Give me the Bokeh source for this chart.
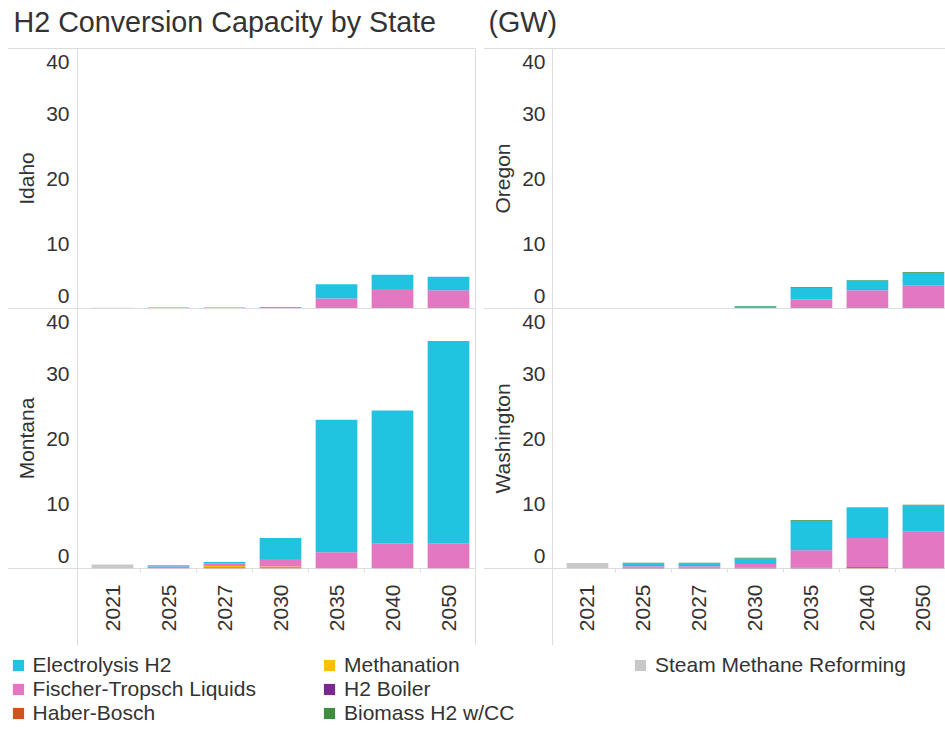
import math
from bokeh.plotting import figure
from bokeh.models import (ColumnDataSource, Range1d, FixedTicker, Legend, LegendItem, Label, Spacer)
from bokeh.layouts import column, row
from bokeh.embed import file_html
from bokeh.resources import INLINE

# ---------------- data ----------------
years = ["2021", "2025", "2027", "2030", "2035", "2040", "2050"]
states = ["Idaho", "Oregon", "Montana", "Washington"]

# stacking order, bottom -> top
techs = ["Steam Methane Reforming", "Haber-Bosch", "Methanation", "H2 Boiler",
         "Fischer-Tropsch Liquids", "Electrolysis H2", "Biomass H2 w/CC"]

tech_colors = {
    "Electrolysis H2": "#20c4e0",
    "Fischer-Tropsch Liquids": "#e377c2",
    "Haber-Bosch": "#d0521e",
    "Methanation": "#ffbe00",
    "H2 Boiler": "#7b2991",
    "Biomass H2 w/CC": "#3f8d3f",
    "Steam Methane Reforming": "#c8c8c8",
}

# capacities in GW
idaho = {
    "Steam Methane Reforming": [0.1, 0, 0, 0, 0, 0, 0],
    "Haber-Bosch":             [0, 0, 0, 0, 0, 0, 0],
    "Methanation":             [0, 0, 0, 0, 0, 0, 0],
    "H2 Boiler":               [0, 0, 0, 0, 0, 0, 0],
    "Fischer-Tropsch Liquids": [0, 0, 0, 0, 1.55, 3.0, 2.8],
    "Electrolysis H2":         [0, 0.15, 0.15, 0.2, 2.2, 2.2, 2.1],
    "Biomass H2 w/CC":         [0, 0, 0, 0.05, 0, 0, 0],
}
oregon = {
    "Steam Methane Reforming": [0, 0, 0, 0, 0, 0, 0],
    "Haber-Bosch":             [0, 0, 0, 0, 0, 0, 0],
    "Methanation":             [0, 0, 0, 0, 0, 0, 0],
    "H2 Boiler":               [0, 0, 0, 0, 0, 0, 0],
    "Fischer-Tropsch Liquids": [0, 0, 0, 0, 1.4, 2.8, 3.5],
    "Electrolysis H2":         [0, 0, 0, 0.3, 1.8, 1.5, 2.0],
    "Biomass H2 w/CC":         [0, 0, 0, 0.1, 0.1, 0.1, 0.1],
}
montana = {
    "Steam Methane Reforming": [0.6, 0, 0, 0, 0, 0, 0],
    "Haber-Bosch":             [0, 0, 0.2, 0.2, 0, 0, 0],
    "Methanation":             [0, 0, 0.2, 0.1, 0, 0, 0],
    "H2 Boiler":               [0, 0, 0, 0, 0, 0, 0],
    "Fischer-Tropsch Liquids": [0, 0.3, 0.4, 1.15, 2.5, 3.9, 3.9],
    "Electrolysis H2":         [0, 0.2, 0.2, 3.25, 20.4, 20.4, 31.1],
    "Biomass H2 w/CC":         [0, 0, 0, 0, 0, 0, 0],
}
washington = {
    "Steam Methane Reforming": [0.85, 0, 0, 0, 0, 0, 0],
    "Haber-Bosch":             [0, 0, 0, 0, 0, 0.15, 0],
    "Methanation":             [0, 0, 0, 0, 0, 0, 0],
    "H2 Boiler":               [0, 0.1, 0.1, 0.1, 0.1, 0.1, 0.05],
    "Fischer-Tropsch Liquids": [0, 0.25, 0.25, 0.6, 2.7, 4.45, 5.6],
    "Electrolysis H2":         [0, 0.45, 0.45, 0.85, 4.55, 4.6, 4.05],
    "Biomass H2 w/CC":         [0, 0.1, 0.1, 0.1, 0.1, 0.1, 0.1],
}
state_data = {"Idaho": idaho, "Oregon": oregon, "Montana": montana, "Washington": washington}

y_ticks = [0, 10, 20, 30, 40]

legend_cols = [
    ["Electrolysis H2", "Fischer-Tropsch Liquids", "Haber-Bosch"],
    ["Methanation", "H2 Boiler", "Biomass H2 w/CC"],
    ["Steam Methane Reforming"],
]

# ---------------- styling ----------------
FONT = "Liberation Sans"
TXT = "#333333"
LINE = "#dddddd"
Y_MAX = 40
CAT_PX = 57.0   # pixel width of one year category
PAGE_W = 945
LEFT_PAD = 12   # spacer before the left panels
FRAME_H = 260
AXIS_H = 77


def css_lines(segments):
    """segments: list of (x, y, w, h) in element pixels -> CSS background lines"""
    return {
        "background-image": ", ".join([f"linear-gradient({LINE}, {LINE})"] * len(segments)),
        "background-size": ", ".join(f"{w}px {h}px" for (_, _, w, h) in segments),
        "background-position": ", ".join(f"{x}px {y}px" for (x, y, _, _) in segments),
        "background-repeat": "no-repeat",
    }


def make_source(state):
    data = state_data[state]
    src = dict(x=[i + 0.5 for i in range(len(years))])
    for t in techs:
        src[t] = data[t]
    return ColumnDataSource(src)


def panel(state, is_left, is_bottom):
    if is_left:
        width, b_left, b_right, l_stand = 476, 65, 12, 9
    else:
        width, b_left, b_right, l_stand = PAGE_W - LEFT_PAD - 476, 64, 0, 8
    b_bottom = AXIS_H if is_bottom else 0
    height = FRAME_H + b_bottom
    frame_w = width - b_left - b_right
    frame_r = b_left + frame_w

    rows_y = [0, FRAME_H] if is_bottom else [0]
    segs = [(b_left, 0, 1, height)]
    for yy in rows_y:
        segs.append((0, yy, frame_r, 1))
        if is_left:
            segs.append((width - 4, yy, 4, 1))
    if is_left:
        segs.append((frame_r - 1, 0, 1, height))

    p = figure(width=width, height=height,
               x_range=Range1d(0, frame_w / CAT_PX), y_range=Range1d(0, Y_MAX),
               output_backend="svg", toolbar_location=None,
               min_border_left=b_left, min_border_right=b_right,
               min_border_top=0, min_border_bottom=b_bottom,
               x_axis_location="below" if is_bottom else None,
               y_axis_location="left",
               border_fill_color=None, background_fill_color=None,
               outline_line_color=None, styles=css_lines(segs))
    p.xgrid.visible = False
    p.ygrid.visible = False

    source = make_source(state)
    p.vbar_stack(techs, x="x", width=0.745, source=source,
                 fill_color=[tech_colors[t] for t in techs], line_color=None)

    # y axis: end labels nudged inward as in the original layout
    ya = p.yaxis[0]
    tick_pos = [y_ticks[0] + 2] + y_ticks[1:-1] + [y_ticks[-1] - 2]
    ya.ticker = FixedTicker(ticks=tick_pos)
    ya.major_label_overrides = {tick_pos[0]: str(y_ticks[0]), tick_pos[-1]: str(y_ticks[-1])}
    ya.axis_line_color = None
    ya.major_tick_line_color = None
    ya.minor_tick_line_color = None
    ya.major_label_standoff = l_stand
    ya.major_label_text_font = FONT
    ya.major_label_text_font_size = "21px"
    ya.major_label_text_color = TXT
    ya.axis_label = state
    ya.axis_label_standoff = 5
    ya.axis_label_text_font = FONT
    ya.axis_label_text_font_size = "21px"
    ya.axis_label_text_font_style = "normal"
    ya.axis_label_text_color = TXT

    if is_bottom:
        xs = source.data["x"]
        xa = p.xaxis[0]
        # major ticks at year centres (labels only), minor ticks at year boundaries
        xa.ticker = FixedTicker(ticks=xs, minor_ticks=list(range(1, len(years))))
        xa.major_label_overrides = {x: y for x, y in zip(xs, years)}
        xa.major_label_orientation = math.pi / 2
        xa.axis_line_color = None
        xa.major_tick_line_color = None
        xa.minor_tick_line_color = LINE
        xa.minor_tick_in = 0
        xa.minor_tick_out = 4
        xa.major_label_standoff = 10
        xa.major_label_text_font = FONT
        xa.major_label_text_font_size = "21px"
        xa.major_label_text_color = TXT
    return p


def pad(is_bottom):
    h = FRAME_H + (AXIS_H if is_bottom else 0)
    ys = [0, FRAME_H] if is_bottom else [0]
    return Spacer(width=LEFT_PAD, height=h,
                  styles=css_lines([(8, yy, LEFT_PAD - 8, 1) for yy in ys]))


p_id = panel("Idaho", True, False)
p_or = panel("Oregon", False, False)
p_mt = panel("Montana", True, True)
p_wa = panel("Washington", False, True)

# ---------------- title strip ----------------
p_title = figure(width=PAGE_W, height=48, x_range=Range1d(0, PAGE_W), y_range=Range1d(0, 48),
                 output_backend="svg", toolbar_location=None, min_border=0,
                 x_axis_location=None, y_axis_location=None, outline_line_color=None)
p_title.grid.visible = False
for txt, xpos in [("H2 Conversion Capacity by State", 13), ("(GW)", 488)]:
    p_title.add_layout(Label(x=xpos, y=27, text=txt, text_font=FONT, text_font_size="28.7px",
                             text_color=TXT, text_baseline="alphabetic"))

# ---------------- legend strip ----------------
LEG_H = 84
p_leg = figure(width=PAGE_W, height=LEG_H, x_range=Range1d(0, 7), y_range=Range1d(0, 40),
               output_backend="svg", toolbar_location=None, min_border=0,
               x_axis_location=None, y_axis_location=None, outline_line_color=None)
p_leg.grid.visible = False
# legend proxies: the real stacks, hidden (legend swatches only)
proxies = p_leg.vbar_stack(techs, x="x", width=0.745, source=make_source("Washington"),
                           fill_color=[tech_colors[t] for t in techs], line_color=None)
for r in proxies:
    r.visible = False
proxy = dict(zip(techs, proxies))
ROW_H = 24
for col_items, vx in zip(legend_cols, [10.6, 322, 633]):
    n = len(col_items)
    leg = Legend(items=[LegendItem(label=t, renderers=[proxy[t]]) for t in col_items],
                 location=(vx, LEG_H - 8 - n * ROW_H),
                 orientation="vertical", padding=0, margin=0, spacing=0,
                 glyph_width=14, glyph_height=14, label_height=ROW_H, label_standoff=8,
                 label_text_font=FONT, label_text_font_size="21px", label_text_color=TXT,
                 border_line_color=None, background_fill_alpha=0,
                 inactive_fill_alpha=0, click_policy="none")
    p_leg.add_layout(leg)

layout = column(p_title, row(pad(False), p_id, p_or), row(pad(True), p_mt, p_wa), p_leg)

open("out.html", "w").write(file_html(layout, INLINE))
